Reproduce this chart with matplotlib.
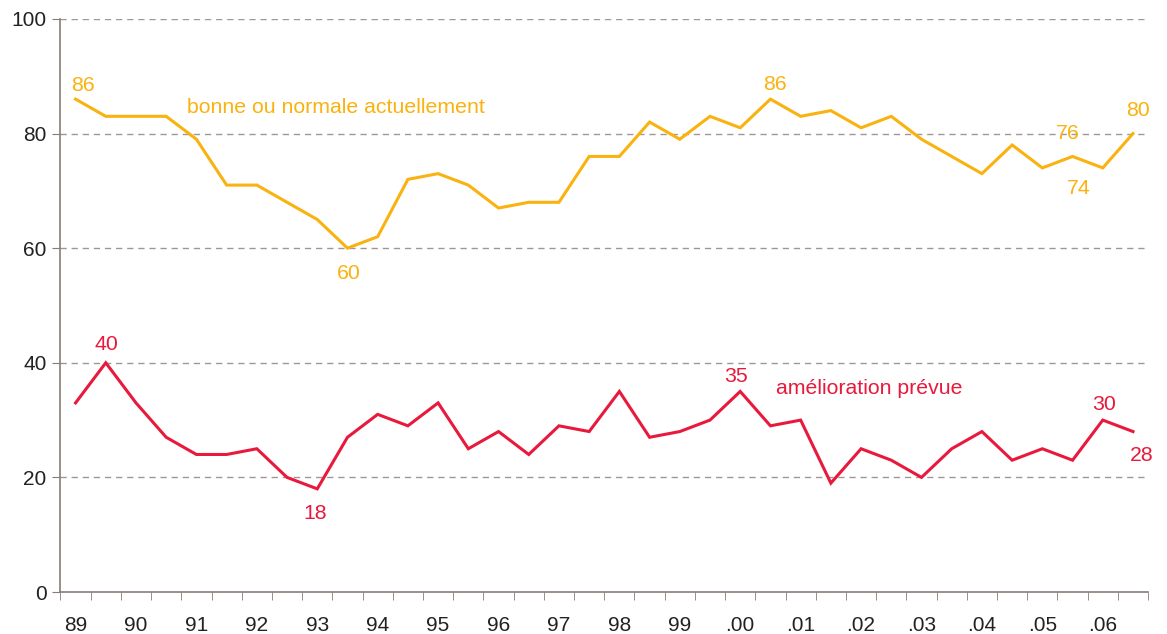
import numpy as np
import matplotlib
matplotlib.use("Agg")
import matplotlib.pyplot as plt

plt.rcParams['font.family'] = ['Liberation Sans', 'DejaVu Sans']

# semestrial survey values, 1989 -> 2006 (two per year)
years = ["89", "90", "91", "92", "93", "94", "95", "96", "97",
         "98", "99", ".00", ".01", ".02", ".03", ".04", ".05", ".06"]
actuelle = [86, 83, 83, 83, 79, 71, 71, 68, 65, 60, 62, 72, 73, 71, 67, 68, 68, 76,
            76, 82, 79, 83, 81, 86, 83, 84, 81, 83, 79, 76, 73, 78, 74, 76, 74, 80]
prevue = [33, 40, 33, 27, 24, 24, 25, 20, 18, 27, 31, 29, 33, 25, 28, 24, 29, 28,
          35, 27, 28, 30, 35, 29, 30, 19, 25, 23, 20, 25, 28, 23, 25, 23, 30, 28]

yellow = "#f9b20f"
red = "#e8193c"
axcol = "#8a7b78"

x = np.arange(len(actuelle))

fig = plt.figure(figsize=(11.67, 6.34), dpi=100)
ax = fig.add_axes([0.0518, 0.0662, 0.932, 0.904])

ax.plot(x, actuelle, color=yellow, lw=2.2, solid_joinstyle='miter')
ax.plot(x, prevue, color=red, lw=2.2, solid_joinstyle='miter')

ax.set_xlim(-0.5, len(x) - 0.5)
ax.set_ylim(0, 100)

# grid
for v in [20, 40, 60, 80, 100]:
    ax.axhline(v, color="#a09694", lw=1, ls=(0, (4.5, 3.5)), zorder=0)

for s in ['top', 'right']:
    ax.spines[s].set_visible(False)
for s in ['left', 'bottom']:
    ax.spines[s].set_color(axcol)
    ax.spines[s].set_linewidth(1.2)

ax.set_yticks([0, 20, 40, 60, 80, 100])
ax.tick_params(axis='y', direction='out', length=6, color=axcol, labelsize=15,
               labelcolor="#222222", pad=4)

ax.set_xticks(np.arange(0, len(x), 2))
ax.set_xticklabels(years)
ax.set_xticks(np.arange(-0.5, len(x), 1), minor=True)
ax.tick_params(axis='x', which='major', length=0, labelsize=15,
               labelcolor="#222222", pad=17)
ax.tick_params(axis='x', which='minor', direction='out', length=6, color=axcol)

fs = 15.3
def lab(i, series, txt, dx, dy, col):
    ax.annotate(txt, (x[i], series[i]), xytext=(dx, dy), textcoords='offset pixels',
                ha='center', va='center', color=col, fontsize=fs)

lab(0, actuelle, "86", 7, 14, yellow)
lab(9, actuelle, "60", 1, -25, yellow)
lab(23, actuelle, "86", 4, 15, yellow)
lab(33, actuelle, "76", -5, 23, yellow)
lab(34, actuelle, "74", -24, -21, yellow)
lab(35, actuelle, "80", 5, 23, yellow)

lab(1, prevue, "40", 1, 18, red)
lab(8, prevue, "18", -2, -25, red)
lab(22, prevue, "35", -4, 15, red)
lab(34, prevue, "30", 1, 16, red)
lab(35, prevue, "28", 9, -24, red)

ax.text(3.69, 84.5, "bonne ou normale actuellement", color=yellow, fontsize=fs,
        ha='left', va='center')
ax.text(23.2, 35.5, "amélioration prévue", color=red, fontsize=fs,
        ha='left', va='center')

fig.savefig("out.png", dpi=100)
